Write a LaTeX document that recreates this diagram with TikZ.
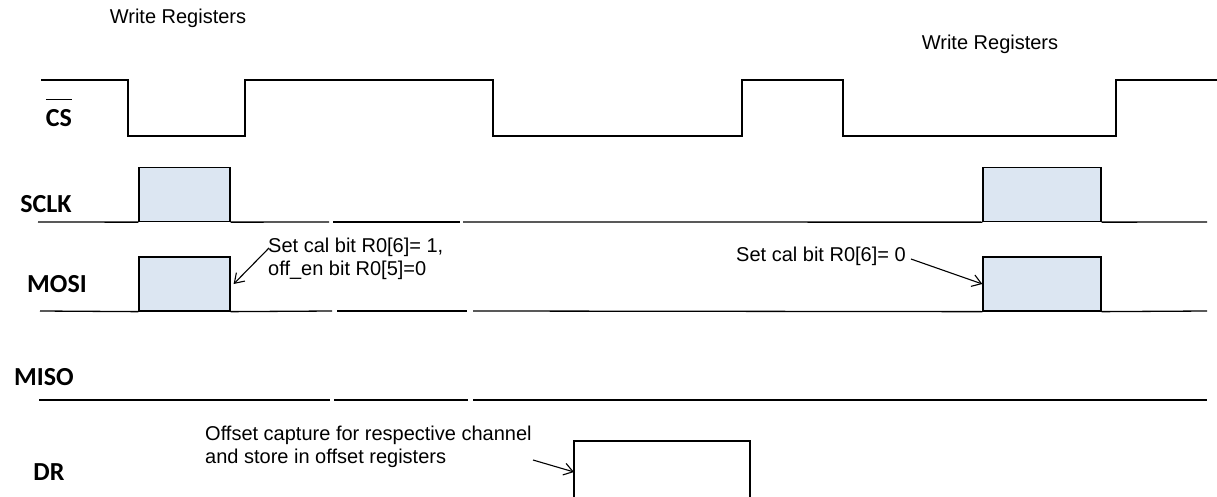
\documentclass[tikz,border=0pt]{standalone}
\usepackage{fontspec}
\setmainfont{Liberation Sans}
\newfontfamily\sigfont{Carlito}
\usetikzlibrary{arrows.meta}
\definecolor{boxblue}{HTML}{DCE6F2}
\tikzset{
	wave/.style={line width=1.3pt, line join=miter},
	base/.style={line width=1.3pt},
	databox/.style={draw, line width=1.3pt, fill=boxblue, inner sep=0pt, minimum width=91pt, minimum height=54pt},
	sig/.style={font=\sigfont\bfseries\fontsize{26}{30}\selectfont, inner sep=0pt},
	note/.style={font=\fontsize{20}{23}\selectfont, inner sep=0pt, align=left},
	pointer/.style={->, line width=1.1pt}
}

\begin{document}
\begin{tikzpicture}[x=1pt, y=-1pt, >={Straight Barb[length=9pt,width=12pt]}]
	\useasboundingbox (0,0) rectangle (1217,497);

	% signal names
	\node[sig] (cs) at (59,118) {CS};
	\draw[line width=1.2pt] ([yshift=10pt]cs.north west) -- ([yshift=10pt]cs.north east);
	\node[sig] (sclk) at (46,204) {SCLK};
	\node[sig] (mosi) at (57,284) {MOSI};
	\node[sig] (miso) at (44,377) {MISO};
	\node[sig] (dr) at (49,472) {DR};

	% chip select
	\draw[wave] (41,80) -- (128,80) -- (128,136) -- (245,136) -- (245,80) -- (493,80) -- (493,136)
		-- (742,136) -- (742,80) -- (843,80) -- (843,136) -- (1116,136) -- (1116,80) -- (1217,80);

	% data boxes
	\node[databox] (sclkA) at (184.5,194.5) {};
	\node[databox, minimum width=118pt] (sclkB) at (1042,194.5) {};
	\node[databox] (mosiA) at (184.5,284) {};
	\node[databox, minimum width=118pt] (mosiB) at (1042,284) {};

	% SCLK line
	\draw[base] (38,222) -- (sclkA.south west);
	\draw[base] (sclkA.south east) -- (329,222);
	\draw[base] (333,222) -- (460,222);
	\draw[base] (463,222) -- (sclkB.south west);
	\draw[base] (sclkB.south east) -- (1207,222);

	% MOSI line
	\draw[base] (40,311) -- (mosiA.south west);
	\draw[base] (mosiA.south east) -- (332,311);
	\draw[base] (337,311) -- (467,311);
	\draw[base] (473,311) -- (mosiB.south west);
	\draw[base] (mosiB.south east) -- (1207,311);

	% MISO line
	\draw[base] (39,400) -- (330,400);
	\draw[base] (334,400) -- (468,400);
	\draw[base] (473,400) -- (1207,400);

	% DR pulse
	\draw[wave] (574,497) -- (574,441) -- (750,441) -- (750,497);
	\coordinate (drin) at (574,472);

	% notes
	\node[note] (wrA) at (178,18) {Write Registers};
	\node[note] (wrB) at (990,44) {Write Registers};
	\node[note, anchor=west] (cal1) at (268,259) {Set cal bit R0[6]= 1,\\off\_en bit R0[5]=0};
	\draw[pointer] ([xshift=1pt,yshift=-10pt]cal1.north west) -- ([xshift=3pt]mosiA.east);
	\node[note, anchor=west] (cal0) at (736,256) {Set cal bit R0[6]= 0};
	\draw[pointer] ([xshift=5pt,yshift=-3pt]cal0.east) -- (mosiB.west);
	\node[note, anchor=west] (offs) at (205,447) {Offset capture for respective channel\\and store in offset registers};
	\coordinate (offtail) at (533,460);
	\draw[pointer] (offtail) -- (drin);
\end{tikzpicture}
\end{document}
